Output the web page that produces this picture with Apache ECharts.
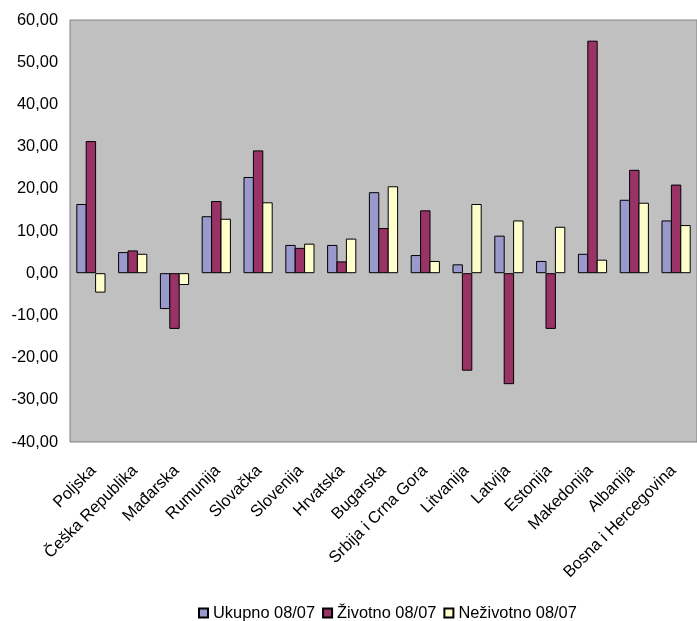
<!DOCTYPE html>
<html>
<head>
<meta charset="utf-8">
<script src="https://cdn.jsdelivr.net/npm/echarts@6/dist/echarts.min.js"></script>
<style>html,body{margin:0;padding:0;background:#fff;}#c{width:697px;height:621px;}</style>
</head>
<body>
<div id="c"></div>
<script>
const categories = ['Poljska','Češka Republika','Mađarska','Rumunija','Slovačka','Slovenija','Hrvatska','Bugarska','Srbija i Crna Gora','Litvanija','Latvija','Estonija','Makedonija','Albanija','Bosna i Hercegovina'];
const ukupno    = [16.4, 5.0, -8.5, 13.5, 22.8, 6.7, 6.7, 19.2, 4.3, 2.1, 8.9, 2.9, 4.6, 17.4, 12.5];
const zivotno   = [31.3, 5.4, -13.2, 17.1, 29.1, 6.0, 2.8, 10.7, 14.9, -23.1, -26.3, -13.2, 55.1, 24.5, 21.0];
const nezivotno = [-4.6, 4.6, -2.8, 12.9, 16.8, 7.0, 8.2, 20.6, 2.9, 16.4, 12.5, 11.0, 3.2, 16.7, 11.4];
const seriesNames = ['Ukupno 08/07','Životno 08/07','Neživotno 08/07'];
const yMin = -40, yMax = 60, yStep = 10;

const font = 'Liberation Sans, Arial, sans-serif';
const fs = 16.4;
const colors = ['#9999CC','#993366','#FFFFCC'];
const chart = echarts.init(document.getElementById('c'), null, {renderer:'canvas'});
const mk = (name, data, i) => ({
  name, type:'bar', data, barWidth:10.4, barGap:'-9.6%',
  xAxisIndex:0, yAxisIndex:0,
  itemStyle:{color: colors[i], borderColor:'#000', borderWidth:1},
  emphasis:{disabled:true}
});
chart.setOption({
  animation:false,
  textStyle:{fontFamily:font},
  grid:[
    {left:70, top:20, width:636, height:422, show:true, backgroundColor:'#C0C0C0', borderColor:'#808080', borderWidth:1},
    {left:72.9, top:20, width:621.2, height:422, show:false}
  ],
  legend:{left:198, top:605, padding:0, itemWidth:9, itemHeight:9, itemGap:7, icon:'rect',
    textStyle:{fontSize:fs, color:'#000', fontFamily:font},
    data: seriesNames},
  xAxis:[
    {type:'category', data:categories, gridIndex:0,
      axisLine:{show:false}, axisTick:{show:false}, axisLabel:{show:false}},
    {type:'category', data:categories, gridIndex:1,
      axisLine:{show:false}, axisTick:{show:false},
      axisLabel:{rotate:45, interval:0, margin:26, fontSize:fs, color:'#000', fontFamily:font}}
  ],
  yAxis:[
    {type:'value', min:yMin, max:yMax, interval:yStep, gridIndex:0,
      axisLine:{show:false}, axisTick:{show:false}, splitLine:{show:false},
      axisLabel:{margin:12, fontSize:fs, color:'#000', fontFamily:font,
        formatter: v => v.toFixed(2).replace('.', ',')}},
    {type:'value', min:yMin, max:yMax, interval:yStep, gridIndex:1, show:false}
  ],
  series:[mk(seriesNames[0], ukupno, 0), mk(seriesNames[1], zivotno, 1), mk(seriesNames[2], nezivotno, 2)]
});
</script>
</body>
</html>
